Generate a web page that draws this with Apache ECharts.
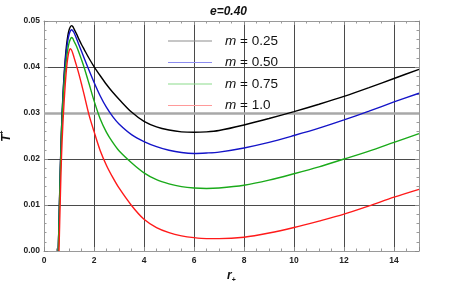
<!DOCTYPE html>
<html>
<head>
<meta charset="utf-8">
<script src="https://cdn.jsdelivr.net/npm/echarts@6/dist/echarts.min.js"></script>
<style>html,body{margin:0;padding:0;background:#fff}#c{width:457px;height:286px}</style>
</head>
<body>
<div id="c"></div>
<script>
const rStar = [0.57, 0.6, 0.65, 0.7, 0.75, 0.8, 0.85, 0.9, 0.95, 1.0, 1.05, 1.1, 1.15, 1.2, 1.3, 1.4, 1.5, 1.6, 1.8, 2.0, 2.25, 2.5, 2.75, 3.0, 3.5, 4.0, 4.5, 5.0, 5.5, 6.0, 6.5, 7.0, 8, 9, 10, 11, 12, 13, 14, 15];
const tM025 = [0, 0.0065, 0.0175, 0.0265, 0.033, 0.038, 0.0418, 0.0447, 0.0467, 0.048, 0.0487, 0.049, 0.0488, 0.0483, 0.0472, 0.046, 0.0449, 0.0439, 0.0419, 0.0401, 0.0381, 0.0362, 0.0345, 0.033, 0.0302, 0.0282, 0.027, 0.0263, 0.0259, 0.0258, 0.0259, 0.0262, 0.0274, 0.0288, 0.0303, 0.0319, 0.0336, 0.0355, 0.0375, 0.0395];
const tM050 = [0, 0.0063, 0.0172, 0.0262, 0.0326, 0.0374, 0.041, 0.0437, 0.0457, 0.047, 0.0478, 0.0481, 0.0479, 0.0475, 0.0462, 0.0448, 0.0434, 0.042, 0.0393, 0.0367, 0.0337, 0.0312, 0.0292, 0.0276, 0.0253, 0.0238, 0.0227, 0.0219, 0.0214, 0.0212, 0.0213, 0.0215, 0.0224, 0.0236, 0.0251, 0.0267, 0.0285, 0.0304, 0.0324, 0.0343];
const tM075 = [0, 0.006, 0.0165, 0.0255, 0.0315, 0.036, 0.0393, 0.0418, 0.0438, 0.0452, 0.046, 0.0464, 0.0462, 0.0456, 0.0445, 0.0431, 0.0416, 0.04, 0.0364, 0.0327, 0.0287, 0.0258, 0.0236, 0.0218, 0.0192, 0.017, 0.0155, 0.0146, 0.014, 0.0137, 0.0136, 0.0137, 0.0143, 0.0154, 0.0168, 0.0183, 0.02, 0.0217, 0.0236, 0.0255];
const tM100 = [null, 0, 0.011, 0.0205, 0.027, 0.032, 0.0362, 0.0396, 0.042, 0.0434, 0.044, 0.0437, 0.043, 0.0421, 0.0403, 0.0384, 0.0363, 0.0341, 0.0296, 0.026, 0.0218, 0.0186, 0.016, 0.0137, 0.0099, 0.0069, 0.0051, 0.004, 0.0033, 0.0029, 0.0027, 0.0027, 0.003, 0.0039, 0.0051, 0.0065, 0.008, 0.0098, 0.0117, 0.0134];
const seriesNames = ['m = 0.25', 'm = 0.50', 'm = 0.75', 'm = 1.0'];
const seriesValues = [tM025, tM050, tM075, tM100];
const lineColors = ['#000000', '#1414c8', '#1aaa1a', '#ff1a1a'];
const legendColors = ['#8e8e8e', '#8c8cf0', '#8cdc8c', '#ff9a9a'];
const xTicks = { min: 0, max: 15, interval: 2 };
const yTicks = { min: 0, max: 0.05, interval: 0.01 };
const titleText = 'e=0.40';

const chart = echarts.init(document.getElementById('c'), null, { renderer: 'canvas' });
const labelFont = { fontFamily: 'Liberation Sans, Arial, sans-serif', fontWeight: 'bold', fontSize: 8.5, color: '#222' };
const frame = { show: true, onZero: false, lineStyle: { color: '#9a9a9a', width: 1 } };
function xAxis(pos, labels) {
  return {
    type: 'value', position: pos, min: xTicks.min, max: xTicks.max, interval: xTicks.interval,
    axisLine: frame,
    axisTick: { show: true, inside: true, length: 4, lineStyle: { color: '#8a8a8a' } },
    minorTick: { show: true, splitNumber: 4, length: 2.5, lineStyle: { color: '#9a9a9a' } },
    axisLabel: labels ? Object.assign({ show: true, margin: 5, showMaxLabel: false }, labelFont) : { show: false },
    splitLine: { show: labels, lineStyle: { color: '#4a4a4a', width: 1 } },
    minorSplitLine: { show: false }
  };
}
function yAxis(pos, labels) {
  return {
    type: 'value', position: pos, min: yTicks.min, max: yTicks.max, interval: yTicks.interval,
    axisLine: frame,
    axisTick: { show: true, inside: true, length: 4, lineStyle: { color: '#8a8a8a' } },
    minorTick: { show: true, splitNumber: 5, length: 2.5, lineStyle: { color: '#9a9a9a' } },
    axisLabel: labels ? Object.assign({ show: true, margin: 4, formatter: v => v.toFixed(2) }, labelFont) : { show: false },
    splitLine: { show: labels, lineStyle: { color: '#4a4a4a', width: 1 } },
    minorSplitLine: { show: false }
  };
}
const xa0 = xAxis('bottom', true);
xa0.name = '{a|r}{b|+}';
xa0.nameLocation = 'middle';
xa0.nameGap = 17;
xa0.nameTextStyle = { rich: {
  a: { fontFamily: 'Liberation Sans, Arial', fontWeight: 'bold', fontStyle: 'italic', fontSize: 12, color: '#111' },
  b: { fontFamily: 'Liberation Sans, Arial', fontWeight: 'bold', fontSize: 7, color: '#111', padding: [8, 0, 0, 0] } } };
const ya0 = yAxis('left', true);
ya0.name = '{a|T}{b|+}';
ya0.nameLocation = 'middle';
ya0.nameRotate = 90;
ya0.nameGap = 30;
ya0.nameTextStyle = { rich: {
  a: { fontFamily: 'Liberation Sans, Arial', fontWeight: 'bold', fontStyle: 'italic', fontSize: 12, color: '#111' },
  b: { fontFamily: 'Liberation Sans, Arial', fontWeight: 'bold', fontSize: 7, color: '#111', padding: [0, 0, 8, 0] } } };

const series = [{
  type: 'line', data: [], xAxisIndex: 0, yAxisIndex: 0, silent: true, z: 1,
  markLine: { silent: true, symbol: 'none', label: { show: false }, animation: false, z: 1,
    lineStyle: { color: '#a8a8a8', width: 2.5, type: 'solid' }, data: [{ yAxis: 0.03 }] }
}].concat(seriesNames.map((name, k) => ({
  name: name, type: 'line', xAxisIndex: 0, yAxisIndex: 0,
  data: rStar.map((r, i) => [r, seriesValues[k][i]]),
  smooth: 0.3, showSymbol: false, symbol: 'none', clip: true,
  lineStyle: { color: lineColors[k], width: 1.4 }, itemStyle: { color: lineColors[k] },
  z: 5
})));

chart.setOption({
  animation: false,
  backgroundColor: '#fff',
  title: { text: titleText, left: 'center', top: 1,
    textStyle: { fontFamily: 'Liberation Sans, Arial', fontWeight: 'bold', fontStyle: 'italic', fontSize: 12, color: '#111' } },
  grid: { left: 44, right: 38, top: 21, bottom: 35, containLabel: false, outerBoundsMode: 'none' },
  legend: {
    orient: 'vertical', left: 163, top: 28, itemWidth: 44, itemHeight: 1, itemGap: 5.5, icon: 'rect',
    data: seriesNames.map((n, k) => ({ name: n, itemStyle: { color: legendColors[k], borderWidth: 0 }, lineStyle: { color: legendColors[k], width: 0, opacity: 0 } })),
    formatter: n => '{i|m}' + n.slice(1),
    textStyle: { fontFamily: 'Liberation Sans, Arial', fontSize: 13.5, color: '#111', padding: [0, 0, 0, 8], lineHeight: 16,
      rich: { i: { fontStyle: 'italic', fontFamily: 'Liberation Sans, Arial', fontSize: 13.5, color: '#111' } } }
  },
  xAxis: [xa0, xAxis('top', false)],
  yAxis: [ya0, yAxis('right', false)],
  series: series
});
</script>
</body>
</html>
